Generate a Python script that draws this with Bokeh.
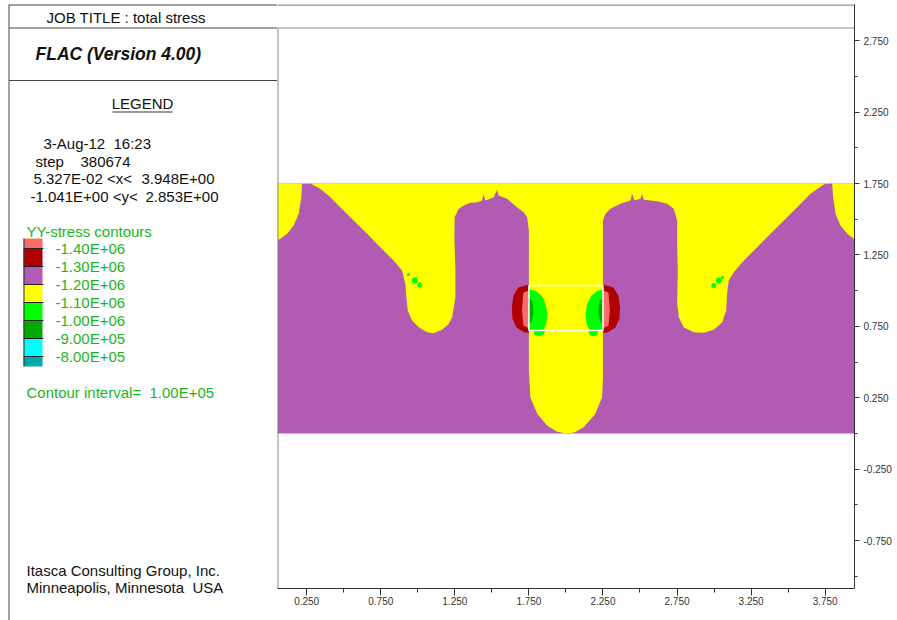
from bokeh.plotting import figure
from bokeh.models import Range1d, Label, FixedTicker, PrintfTickFormatter, Row
from bokeh.embed import file_html
from bokeh.resources import INLINE

# ---------------- data ----------------
x_window = [0.053, 3.948]
y_window = [-1.085, 3.003]
model_x = [0.053, 3.948]
model_y = [0.0, 1.75]

x_ticks = [0.25, 0.75, 1.25, 1.75, 2.25, 2.75, 3.25, 3.75]
x_minor = [0.5, 1.0, 1.5, 2.0, 2.5, 3.0, 3.5]
y_ticks = [-0.75, -0.25, 0.25, 0.75, 1.25, 1.75, 2.25, 2.75]
y_minor = [-1.0, -0.5, 0.0, 0.5, 1.0, 1.5, 2.0, 2.5]

contour_labels = ["-1.40E+06", "-1.30E+06", "-1.20E+06", "-1.10E+06",
                  "-1.00E+06", "-9.00E+05", "-8.00E+05"]
band_colors = ["#FF6A6A", "#B00000", "#B25BB2", "#FFFF00",
               "#00FF00", "#00AA00", "#00FFFF", "#00A8A8"]

# yellow (-1.20E+06 band) regions
yellow_left_x = [0.053, 0.219, 0.214, 0.196, 0.162, 0.118, 0.072, 0.053]
yellow_left_y = [1.75, 1.75, 1.654, 1.538, 1.456, 1.398, 1.363, 1.351]

yellow_main_x = [0.275, 0.342, 0.410, 0.477, 0.567, 0.658, 0.747, 0.837, 0.894, 0.916,
                 0.923, 0.932, 0.962, 1.006, 1.063, 1.107, 1.164, 1.209, 1.232, 1.254,
                 1.254, 1.247, 1.249, 1.276, 1.310, 1.355, 1.400, 1.434, 1.445, 1.456,
                 1.513, 1.535, 1.546, 1.603, 1.670, 1.715, 1.738, 1.750, 1.750, 1.760,
                 1.806, 1.873, 1.936, 2.000, 2.057, 2.120, 2.199, 2.244, 2.250, 2.250,
                 2.250, 2.267, 2.300, 2.368, 2.436, 2.447, 2.463, 2.503, 2.515, 2.525,
                 2.616, 2.683, 2.728, 2.751, 2.751, 2.755, 2.751, 2.762, 2.795, 2.863,
                 2.930, 2.998, 3.055, 3.082, 3.088, 3.099, 3.133, 3.201, 3.291, 3.381,
                 3.471, 3.561, 3.651, 3.741, 3.764]
yellow_main_y = [1.750, 1.713, 1.654, 1.584, 1.491, 1.398, 1.304, 1.211, 1.141, 1.048,
                 0.954, 0.861, 0.791, 0.744, 0.709, 0.702, 0.726, 0.768, 0.814, 0.954,
                 1.141, 1.374, 1.514, 1.573, 1.596, 1.615, 1.619, 1.631, 1.678, 1.631,
                 1.654, 1.706, 1.666, 1.643, 1.584, 1.549, 1.514, 1.421, 0.441, 0.254,
                 0.138, 0.056, 0.014, 0.000, 0.007, 0.044, 0.138, 0.254, 0.394, 1.258,
                 1.491, 1.538, 1.573, 1.608, 1.631, 1.678, 1.631, 1.643, 1.678, 1.636,
                 1.626, 1.608, 1.573, 1.491, 1.304, 1.141, 0.908, 0.814, 0.744, 0.709,
                 0.705, 0.726, 0.779, 0.861, 0.978, 1.071, 1.129, 1.211, 1.304, 1.398,
                 1.491, 1.584, 1.678, 1.743, 1.750]

yellow_right_x = [3.797, 3.804, 3.820, 3.853, 3.899, 3.943, 3.948, 3.948]
yellow_right_y = [1.75, 1.654, 1.538, 1.456, 1.398, 1.363, 1.351, 1.75]

# dark red (-1.30E+06 band) lobes beside the opening
red_left_x = [1.750, 1.679, 1.646, 1.635, 1.639, 1.666, 1.720, 1.750]
red_right_x = [2.250, 2.321, 2.354, 2.365, 2.361, 2.334, 2.280, 2.250]
red_y = [1.043, 1.022, 0.966, 0.882, 0.805, 0.742, 0.707, 0.707]

# pink (-1.40E+06 band) slivers
pink_left_x = [1.750, 1.713, 1.703, 1.713, 1.750]
pink_right_x = [2.250, 2.287, 2.297, 2.287, 2.250]
pink_y = [1.001, 0.987, 0.861, 0.756, 0.735]

# green (-1.10E+06 band) lobes inside the opening
green_left_x = [1.750, 1.794, 1.835, 1.862, 1.875, 1.868, 1.848, 1.750]
green_right_x = [2.250, 2.213, 2.172, 2.145, 2.132, 2.138, 2.159, 2.250]
green_y = [1.008, 1.001, 0.966, 0.910, 0.840, 0.777, 0.721, 0.721]
green_low_left_x = [1.781, 1.862, 1.848, 1.814, 1.787]
green_low_right_x = [2.219, 2.152, 2.159, 2.186, 2.213]
green_low_y = [0.721, 0.721, 0.693, 0.679, 0.693]

# dark green (-1.00E+06 band) slivers
dgreen_left_x = [1.750, 1.774, 1.781, 1.767, 1.750]
dgreen_right_x = [2.250, 2.226, 2.219, 2.233, 2.250]
dgreen_y = [0.945, 0.931, 0.847, 0.777, 0.770]

# small green spots
spot_x = [0.937, 0.979, 1.013, 2.998, 3.032, 3.057]
spot_y = [1.113, 1.071, 1.041, 1.036, 1.071, 1.092]

# excavation outline
box_x = [1.75, 2.25]
box_y = [0.721, 1.036]

# ---------------- styles ----------------
FONT = "Liberation Sans"
INK = "#111111"
GREEN_TXT = "#1DB31D"
PURPLE = band_colors[2]
YELLOW = band_colors[3]
DARK_RED = band_colors[1]
PINK = band_colors[0]
GREEN = band_colors[4]
DGREEN = band_colors[5]
LINE = "#444444"
FRAME_GRAY = "#8A8A8A"
PX_PER_Y = 142.86          # vertical pixels per model unit in the main frame


def no_align(fig):
    try:
        fig.frame_align = False
    except Exception:
        pass


# ---------------- left info panel (pixel-like layout coordinates) ----------------
L = figure(width=277, height=620, x_range=Range1d(0, 277), y_range=Range1d(620, 0),
           toolbar_location=None, output_backend="svg", min_border=0,
           x_axis_location=None, y_axis_location=None, outline_line_color=None)
L.grid.grid_line_color = None
no_align(L)

L.segment(x0=[8.5, 8.5, 8.5, 8.5], y0=[4.5, 27.5, 80, 4], x1=[277, 277, 277, 8.5],
          y1=[4.5, 27.5, 80, 620], line_color=LINE, line_width=1)
L.segment(x0=[112], y0=[111.5], x1=[172], y1=[111.5], line_color="#777777", line_width=1.5)


def lab(fig, text, x, y, size="15px", color=INK, style="normal", align="left"):
    fig.add_layout(Label(x=x, y=y, text=text, text_font=FONT, text_font_size=size,
                         text_color=color, text_font_style=style, text_align=align,
                         text_baseline="middle"))


lab(L, "JOB TITLE : total stress", 46, 17)
lab(L, "FLAC (Version 4.00)", 35, 53, size="17.5px", style="bold italic")
lab(L, "LEGEND", 142, 103, align="center")
info_parts = [("3-Aug-12", 43, 143), ("16:23", 113, 143),
              ("step", 35, 161), ("380674", 80, 161),
              ("5.327E-02 <x<", 33, 178), ("3.948E+00", 141, 178),
              ("-1.041E+00 <y<", 30, 196), ("2.853E+00", 145, 196)]
for t, x, y in info_parts:
    lab(L, t, x, y)
lab(L, "YY-stress contours", 26, 231, color=GREEN_TXT)

# legend swatches
y0, step, half = 248, 18, 10
tops, bots = [], []
for i in range(len(band_colors)):
    if i == 0:
        tops.append(y0 - half); bots.append(y0)
    elif i == len(band_colors) - 1:
        tops.append(y0 + step * (i - 1)); bots.append(y0 + step * (i - 1) + half)
    else:
        tops.append(y0 + step * (i - 1)); bots.append(y0 + step * i)
L.quad(left=23, right=42, top=tops, bottom=bots, fill_color=band_colors, line_color=None)
bounds = [y0 + step * i for i in range(len(contour_labels))]
L.segment(x0=23, x1=43, y0=bounds, y1=bounds, line_color="#222222", line_width=1)
L.segment(x0=[23.5], x1=[23.5], y0=[tops[0]], y1=[bots[-1]], line_color="#333333", line_width=1)
for t, y in zip(contour_labels, bounds):
    lab(L, t, 55, y, color=GREEN_TXT)

lab(L, "Contour interval=", 26, 392, color=GREEN_TXT)
lab(L, "1.00E+05", 149, 392, color=GREEN_TXT)
lab(L, "Itasca Consulting Group, Inc.", 26, 570)
lab(L, "Minneapolis, Minnesota", 26, 587)
lab(L, "USA", 192, 587)

# ---------------- main contour plot ----------------
P = figure(frame_width=577, frame_height=584,
           x_range=Range1d(*x_window), y_range=Range1d(*y_window),
           toolbar_location=None, output_backend="svg",
           min_border_left=0, min_border_top=4, min_border_bottom=32, min_border_right=43,
           y_axis_location="right", outline_line_color=None)
P.grid.grid_line_color = None
no_align(P)

P.quad(left=model_x[0], right=model_x[1], bottom=model_y[0], top=model_y[1],
       fill_color=PURPLE, line_color=None)
P.patches(xs=[yellow_left_x, yellow_main_x, yellow_right_x],
          ys=[yellow_left_y, yellow_main_y, yellow_right_y],
          fill_color=YELLOW, line_color=None)
P.patches(xs=[red_left_x, red_right_x], ys=[red_y, red_y], fill_color=DARK_RED, line_color=None)
P.patches(xs=[pink_left_x, pink_right_x], ys=[pink_y, pink_y], fill_color=PINK, line_color=None)
P.patches(xs=[green_left_x, green_right_x, green_low_left_x, green_low_right_x],
          ys=[green_y, green_y, green_low_y, green_low_y], fill_color=GREEN, line_color=None)
P.patches(xs=[dgreen_left_x, dgreen_right_x], ys=[dgreen_y, dgreen_y],
          fill_color=DGREEN, line_color=None)
P.scatter(x=spot_x, y=spot_y, size=[3, 6, 5, 5, 6, 3], fill_color=GREEN, line_color=None)
P.quad(left=box_x[0], right=box_x[1], bottom=box_y[0], top=box_y[1],
       fill_color=None, line_color="white", line_width=1.5)

# frame lines: top border, title-row rule, left edge
top_line_y = y_window[1] - 0.5 / PX_PER_Y
title_rule_y = y_window[1] - 23.5 / PX_PER_Y
P.segment(x0=[x_window[0], x_window[0]], y0=[top_line_y, title_rule_y],
          x1=[x_window[1], x_window[1]], y1=[top_line_y, title_rule_y],
          line_color=[LINE, FRAME_GRAY], line_width=1)
P.segment(x0=[x_window[0]], y0=[y_window[0]], x1=[x_window[0]], y1=[title_rule_y],
          line_color=FRAME_GRAY, line_width=2)

xa = P.xaxis[0]
xa.ticker = FixedTicker(ticks=x_ticks, minor_ticks=x_minor)
xa.formatter = PrintfTickFormatter(format="%.3f")
ya = P.yaxis[0]
ya.ticker = FixedTicker(ticks=y_ticks, minor_ticks=y_minor)
ya.formatter = PrintfTickFormatter(format="%.3f")
for ax, tout, mout, stand in ((xa, 7, 4, 1), (ya, 5, 3, 4)):
    ax.axis_line_color = "#333333"
    ax.major_tick_line_color = "#333333"
    ax.minor_tick_line_color = "#333333"
    ax.major_tick_in = 0
    ax.minor_tick_in = 0
    ax.major_tick_out = tout
    ax.minor_tick_out = mout
    ax.major_label_standoff = stand
    ax.major_label_text_font = FONT
    ax.major_label_text_font_size = "10px"
    ax.major_label_text_color = "#333333"

layout = Row(children=[L, P], spacing=0)
open("out.html", "w").write(file_html(layout, INLINE))
